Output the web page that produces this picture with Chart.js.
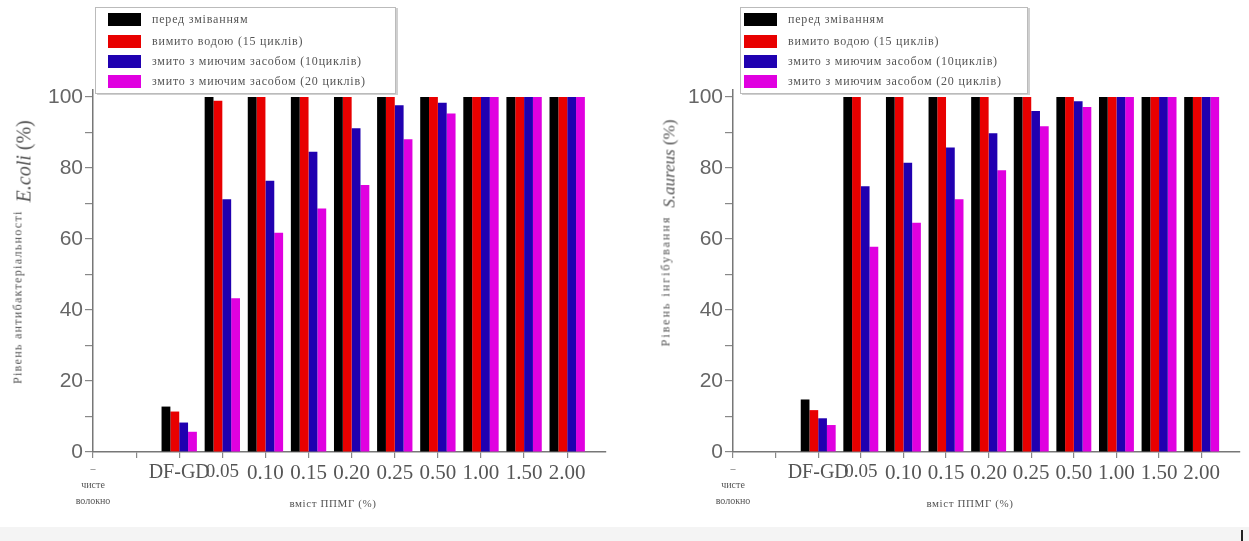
<!DOCTYPE html>
<html>
<head>
<meta charset="utf-8">
<script src="https://cdn.jsdelivr.net/npm/chart.js@4/dist/chart.umd.min.js"></script>
<style>
    body { margin: 0; background: #fff; }
    #wrap { position: relative; width: 1249px; height: 541px; overflow: hidden; background: #fff; }
    .panel { position: absolute; top: 0; height: 541px; }
    .panel canvas { position: absolute; left: 0; top: 0; }
    .legend { position: absolute; top: 7px; height: 85px; background: #fff; border: 1px solid #bbb;
        box-shadow: 2px 1px 0 #d0d0d0; font-family: "Liberation Serif", serif; font-size: 12px;
        color: #555; letter-spacing: 0.8px; }
    .legend .sw { position: absolute; width: 33px; height: 13px; }
    .legend .tx { position: absolute; white-space: nowrap; line-height: 14px; }
    .ytitle { position: absolute; transform: translate(-50%, -50%) rotate(-90deg); white-space: nowrap;
        color: #555; font-family: "Liberation Serif", serif; }
    .ytitle .sm { font-size: 12px; letter-spacing: 1.3px; }
    .ytitle .big { font-size: 20px; }
    .xtitle { position: absolute; transform: translate(-50%, -50%); white-space: nowrap; color: #555;
        font-family: "Liberation Serif", serif; font-size: 11px; letter-spacing: 0.6px; }
    #band { position: absolute; left: 0; top: 527px; width: 1249px; height: 14px; background: #f4f4f4; }
    #mark { position: absolute; left: 1241px; top: 530px; width: 2px; height: 11px; background: #222; }
</style>
</head>
<body>
<div id="wrap">
    <div id="band"></div>
    <div id="mark"></div>

    <div class="panel" style="left:0; width:624px;">
        <canvas id="ecoli" width="624" height="541"></canvas>
        <div class="legend" id="ecoli-legend" style="left:95px; width:299px;"></div>
        <div class="ytitle" style="left:23px; top:252px;">
            <span class="sm" style="vertical-align:9px;">Рівень антибактеріальності</span>&nbsp;&nbsp;<span class="big"><i>E.coli</i> (%)</span>
        </div>
        <div class="xtitle" style="left:333px; top:503px;">вміст ППМГ (%)</div>
    </div>

    <div class="panel" style="left:624px; width:625px;">
        <canvas id="saureus" width="625" height="541"></canvas>
        <div class="legend" id="saureus-legend" style="left:116px; width:286px;"></div>
        <div class="ytitle" style="left:45px; top:233px;">
            <span class="sm" style="vertical-align:5px; letter-spacing:2px;">Рівень інгібування</span>&nbsp;&nbsp;<span class="big" style="font-size:17px;"><i>S.aureus</i> (%)</span>
        </div>
        <div class="xtitle" style="left:346px; top:503px;">вміст ППМГ (%)</div>
    </div>
</div>

<script>
// categories on the x axis
var categories = ['чисте волокно', '', 'DF-GD', '0.05', '0.10', '0.15', '0.20', '0.25', '0.50', '1.00', '1.50', '2.00'];
var yTicks = [0, 10, 20, 30, 40, 50, 60, 70, 80, 90, 100];

var seriesNames = [
    'перед зміванням',
    'вимито водою (15 циклів)',
    'змито з миючим засобом (10циклів)',
    'змито з миючим засобом (20 циклів)'
];
var seriesColors = ['#000000', '#e80000', '#2000b0', '#e000e0'];

// E.coli
var ecoliBefore = [0, null, 12.8, 100, 100, 100, 100, 100, 100, 100, 100, 100];
var ecoliWater  = [0, null, 11.4, 99, 100, 100, 100, 100, 100, 100, 100, 100];
var ecoliDet10  = [0, null, 8.3, 71.2, 76.4, 84.6, 91.2, 97.7, 98.4, 100, 100, 100];
var ecoliDet20  = [0, null, 5.7, 43.3, 61.8, 68.6, 75.2, 88.1, 95.4, 100, 100, 100];

// S.aureus
var saureusBefore = [0, null, 14.8, 100, 100, 100, 100, 100, 100, 100, 100, 100];
var saureusWater  = [0, null, 11.8, 100, 100, 100, 100, 100, 100, 100, 100, 100];
var saureusDet10  = [0, null, 9.5, 74.9, 81.5, 85.8, 89.8, 96.1, 98.8, 100, 100, 100];
var saureusDet20  = [0, null, 7.6, 57.8, 64.6, 71.2, 79.4, 91.8, 97.2, 100, 100, 100];

function buildLegend(id, swLeft, txLeft) {
    var box = document.getElementById(id);
    var rowsTop = [5, 27, 47, 67];
    var html = '';
    for (var i = 0; i < seriesNames.length; i++) {
        html += '<div class="sw" style="left:' + swLeft + 'px; top:' + rowsTop[i] + 'px; background:' + seriesColors[i] + ';"></div>';
        html += '<div class="tx" style="left:' + txLeft + 'px; top:' + (rowsTop[i] - 1) + 'px;">' + seriesNames[i] + '</div>';
    }
    box.innerHTML = html;
}

function tickFont(c) {
    if (c.index === 0) return {family: 'Liberation Serif', size: 10, lineHeight: 1.6};
    if (c.index === 2) return {family: 'Liberation Serif', size: 20};
    if (c.index === 3) return {family: 'Liberation Serif', size: 19};
    return {family: 'Liberation Serif', size: 21};
}

function makeChart(id, series, axisLeft, padRight) {
    var datasets = series.map(function (values, s) {
        return {
            label: seriesNames[s],
            data: values.map(function (v, i) { return {x: i, y: v}; }),
            backgroundColor: seriesColors[s],
            borderWidth: 0,
            categoryPercentage: 0.82,
            barPercentage: 1.0
        };
    });

    var ctx = document.getElementById(id).getContext('2d');
    return new Chart(ctx, {
        type: 'bar',
        data: {datasets: datasets},
        options: {
            responsive: false,
            animation: false,
            layout: {padding: {top: 90, right: padRight, bottom: 0, left: 0}},
            plugins: {
                legend: {display: false},
                tooltip: {enabled: false}
            },
            scales: {
                x: {
                    type: 'linear',
                    offset: false,
                    min: 0,
                    max: 11.9,
                    afterBuildTicks: function (scale) {
                        scale.ticks = categories.map(function (c, i) { return {value: i}; });
                    },
                    afterFit: function (scale) { scale.height = 89; },
                    border: {display: true, color: '#777', width: 1.5},
                    grid: {display: true, offset: false, drawOnChartArea: false, drawTicks: true,
                        tickLength: 6, color: '#888', lineWidth: 1.2},
                    ticks: {
                        autoSkip: false,
                        maxRotation: 0,
                        minRotation: 0,
                        padding: 3,
                        color: '#555',
                        font: tickFont,
                        callback: function (value) {
                            if (value === 0) return ['–'].concat(categories[0].split(' '));
                            return categories[value];
                        }
                    }
                },
                y: {
                    min: 0,
                    max: 102,
                    afterBuildTicks: function (scale) {
                        scale.ticks = yTicks.map(function (v) { return {value: v}; });
                    },
                    afterFit: function (scale) { scale.width = axisLeft; },
                    border: {display: true, color: '#777', width: 1.5},
                    grid: {display: true, drawOnChartArea: false, drawTicks: true,
                        tickLength: 8, color: '#888', lineWidth: 1.2},
                    ticks: {
                        padding: 2,
                        color: '#666',
                        font: {family: 'Liberation Sans', size: 21},
                        callback: function (value) { return value % 20 === 0 ? value : ''; }
                    }
                }
            }
        }
    });
}

buildLegend('ecoli-legend', 12, 56);
buildLegend('saureus-legend', 3, 47);

window.ecoliChart = makeChart('ecoli', [ecoliBefore, ecoliWater, ecoliDet10, ecoliDet20], 93, 18);
window.saureusChart = makeChart('saureus', [saureusBefore, saureusWater, saureusDet10, saureusDet20], 109, 9);
</script>
</body>
</html>
